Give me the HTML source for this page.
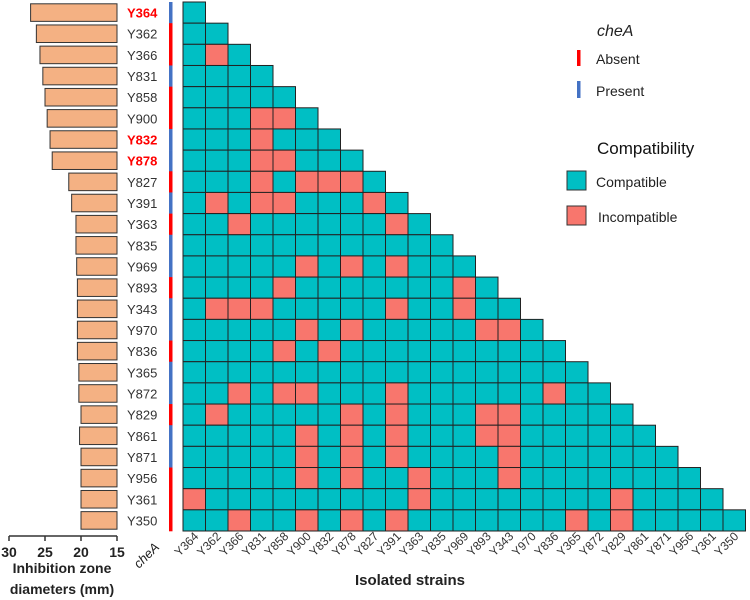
<!DOCTYPE html>
<html><head><meta charset="utf-8"><style>
html,body{margin:0;padding:0;background:#fff;}
svg{display:block;font-family:"Liberation Sans",sans-serif;}
</style></head><body>
<svg id="chart" width="750" height="600" viewBox="0 0 750 600">
<g id="bars"></g>
<g id="labels"></g>
<g id="chea"></g>
<g id="grid"></g>
<g id="xlabels"></g>
<g id="baxis"></g>
<text x="160" y="548" transform="rotate(-45 160 548)" font-size="13" font-style="italic" text-anchor="end" fill="#222">cheA</text>
<text x="410" y="585" font-size="15" font-weight="bold" text-anchor="middle" fill="#222">Isolated strains</text>
<text x="62" y="573" font-size="14" font-weight="bold" text-anchor="middle" fill="#222">Inhibition zone</text>
<text x="62" y="594" font-size="14" font-weight="bold" text-anchor="middle" fill="#222">diameters (mm)</text>
<g>
<text x="597" y="36" font-size="16" font-style="italic" fill="#222">cheA</text>
<rect x="577" y="50" width="3.5" height="16" fill="#ff0000"/>
<text x="596" y="64" font-size="14" fill="#222">Absent</text>
<rect x="577" y="81" width="3.5" height="17" fill="#4472c4"/>
<text x="596" y="96" font-size="14" fill="#222">Present</text>
<text x="597" y="154" font-size="17" fill="#111">Compatibility</text>
<rect x="567" y="171" width="19" height="19" fill="#00bfc4" stroke="#333"/>
<text x="596" y="187" font-size="14" fill="#222">Compatible</text>
<rect x="567" y="206" width="19" height="19" fill="#f8766d" stroke="#333"/>
<text x="598" y="222" font-size="14" fill="#222">Incompatible</text>
</g>
</svg>
<script>
const strains = ["Y364","Y362","Y366","Y831","Y858","Y900","Y832","Y878","Y827","Y391","Y363","Y835","Y969","Y893","Y343","Y970","Y836","Y365","Y872","Y829","Y861","Y871","Y956","Y361","Y350"];
const inhibition = [27.0,26.2,25.7,25.3,25.0,24.7,24.3,24.0,21.7,21.3,20.7,20.7,20.6,20.5,20.5,20.5,20.5,20.3,20.3,20.0,20.2,20.0,20.0,20.0,20.0];
const cheA = ["P","A","A","P","A","A","P","P","A","P","A","P","P","A","P","P","A","P","P","A","P","P","A","A","A"];
const highlighted = ["Y364","Y832","Y878"];
// incompatible pairs: [row index, column index]
const incompatible = [[2,1],[5,3],[5,4],[6,3],[7,3],[7,4],[8,3],[8,5],[8,6],[8,7],[9,1],[9,3],[9,4],[9,8],[10,2],[10,9],[12,5],[12,7],[12,9],[13,4],[13,12],[14,1],[14,2],[14,3],[14,9],[14,12],[15,5],[15,7],[15,13],[15,14],[16,4],[16,6],[18,2],[18,4],[18,5],[18,9],[18,16],[19,1],[19,7],[19,9],[19,13],[19,14],[20,5],[20,7],[20,9],[20,13],[20,14],[21,5],[21,7],[21,9],[21,14],[22,5],[22,7],[22,10],[22,14],[23,0],[23,10],[23,19],[24,2],[24,5],[24,7],[24,9],[24,17],[24,19]];
const barTicks = [30,25,20,15];

const NS="http://www.w3.org/2000/svg";
const gx0=183, gy0=2, cw=22.5, ch=21.16;
const colX=c=>gx0+c*cw, rowY=r=>gy0+r*ch;
const bx=v=>117-(v-15)*7.2;
function mk(tag,attrs,parent){const e=document.createElementNS(NS,tag);for(const k in attrs)e.setAttribute(k,attrs[k]);parent.appendChild(e);return e;}
const bad=new Set(incompatible.map(p=>p[0]+"_"+p[1]));
const G=document.getElementById('grid'),B=document.getElementById('bars'),L=document.getElementById('labels'),C=document.getElementById('chea'),X=document.getElementById('xlabels'),A=document.getElementById('baxis');
strains.forEach((s,r)=>{
  const y=rowY(r);
  const b=mk('rect',{x:bx(inhibition[r]),y:y+1.8,width:117-bx(inhibition[r]),height:ch-3.6,fill:'#f4b183',stroke:'#333','stroke-width':1},B);
  
  
  const hl=highlighted.includes(s);
  const t=mk('text',{x:127,y:y+ch/2+5,'font-size':13,fill:hl?'#ff0000':'#333','font-weight':hl?'bold':'normal'},L);
  t.textContent=s;
  
  
  const c=mk('rect',{x:169,y:y,width:3.5,height:ch+0.3,fill:cheA[r]==='A'?'#ff0000':'#4472c4'},C);
  
  
  for(let k=0;k<=r;k++){
    const cell=mk('rect',{x:colX(k),y:y,width:cw,height:ch,fill:bad.has(r+"_"+k)?'#f8766d':'#00bfc4',stroke:'#222','stroke-width':1},G);
    
    
  }
  const cx=colX(r)+cw/2+5, cy=rowY(strains.length)+6;
  const xl=mk('text',{x:cx,y:cy,'font-size':12,fill:'#333','text-anchor':'end',transform:`rotate(-45 ${cx} ${cy})`},X);
  xl.textContent=s;
  
  
});
const axl=mk('line',{x1:bx(30),x2:bx(15),y1:536,y2:536,stroke:'#333','stroke-width':1.5},A);


barTicks.forEach(v=>{
  const tk=mk('line',{x1:bx(v),x2:bx(v),y1:536,y2:541,stroke:'#333','stroke-width':1.5},A);
  
  
  const tl=mk('text',{x:bx(v),y:557,'font-size':14,'font-weight':'bold','text-anchor':'middle',fill:'#222'},A);
  tl.textContent=v;
  
  
});
</script>
</body></html>
